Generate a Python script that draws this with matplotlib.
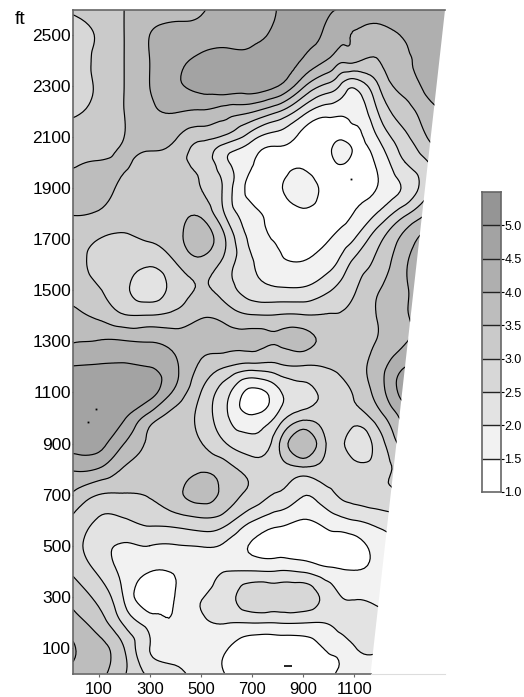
import matplotlib
matplotlib.use("Agg")
import matplotlib.pyplot as plt
import matplotlib.tri as mtri
from matplotlib.patches import Polygon
import numpy as np

# positions along the traverse (ft)
x_ft = [0, 100, 200, 300, 400, 500, 600, 700, 800, 900, 1000, 1050, 1100, 1200, 1300, 1400, 1500]
y_ft = [2600, 2500, 2400, 2300, 2200, 2100, 2050, 2000, 1900, 1800, 1700, 1600, 1500, 1400,
        1300, 1200, 1100, 1000, 900, 800, 700, 600, 500, 400, 300, 200, 100, 0]

# values, one row per y_ft entry
z_rows = [
    [3.1, 3.3, 3.5, 3.7, 3.85, 3.96, 4.11, 4.31, 4.51, 4.75, 4.55, 4.48, 4.4, 4.3, 4.25, 4.2, 4.2],
    [2.8, 3.05, 3.5, 4.0, 4.15, 4.2, 4.3, 4.4, 4.55, 4.7, 4.38, 4.15, 3.98, 3.85, 4.02, 4.1, 4.2],
    [2.8, 3.1, 3.5, 4.0, 4.35, 4.65, 4.75, 4.75, 4.7, 4.45, 3.95, 3.6, 3.62, 3.52, 3.95, 4.15, 4.2],
    [2.7, 3.07, 3.5, 4.0, 4.4, 4.7, 4.8, 4.8, 4.52, 3.6, 2.85, 2.4, 2.1, 3.05, 3.7, 4.2, 4.3],
    [2.93, 3.15, 3.5, 3.9, 4.03, 3.95, 3.75, 3.55, 3.05, 2.2, 1.7, 1.63, 1.67, 2.6, 3.3, 3.85, 4.1],
    [3.15, 3.25, 3.5, 3.73, 3.55, 3.15, 2.87, 2.2, 1.78, 1.35, 1.3, 1.42, 1.38, 2.1, 2.9, 3.6, 4.0],
    [3.25, 3.3, 3.55, 3.52, 3.35, 2.8, 2.17, 1.72, 1.42, 1.3, 1.4, 1.7, 1.45, 1.83, 2.7, 3.35, 3.9],
    [3.4, 3.55, 3.55, 3.4, 3.2, 2.85, 2.08, 1.55, 1.3, 1.4, 1.35, 1.55, 1.35, 1.65, 2.5, 3.05, 3.6],
    [3.75, 3.7, 3.4, 3.3, 3.2, 3.0, 2.3, 1.3, 1.4, 1.7, 1.4, 1.3, 1.3, 1.55, 2.1, 2.95, 3.3],
    [3.52, 3.45, 3.25, 3.3, 3.3, 3.4, 2.4, 1.68, 1.35, 1.4, 1.3, 1.35, 1.52, 2.1, 2.9, 3.6, 4.0],
    [3.3, 3.0, 2.9, 3.05, 3.3, 3.75, 2.95, 1.85, 1.45, 1.3, 1.48, 1.7, 2.0, 2.9, 3.7, 4.25, 4.3],
    [3.35, 2.8, 2.65, 2.55, 2.95, 3.3, 2.75, 2.05, 1.6, 1.55, 1.85, 2.2, 2.65, 3.2, 3.95, 4.3, 4.3],
    [3.3, 3.05, 2.6, 2.25, 2.7, 3.05, 2.75, 2.25, 2.1, 2.1, 2.45, 2.7, 2.95, 3.5, 3.95, 4.2, 4.3],
    [3.65, 3.42, 3.05, 3.03, 3.15, 3.45, 3.3, 3.05, 3.05, 3.05, 3.05, 3.05, 3.2, 3.55, 3.95, 4.2, 4.3],
    [3.97, 4.03, 4.03, 3.98, 3.8, 3.65, 3.65, 3.65, 3.55, 3.65, 3.3, 3.25, 3.3, 3.55, 3.97, 4.2, 4.3],
    [4.52, 4.55, 4.55, 4.5, 4.08, 3.4, 3.0, 2.75, 2.85, 2.95, 3.03, 3.15, 3.3, 3.8, 4.5, 4.6, 4.6],
    [4.8, 4.85, 4.8, 4.7, 3.88, 3.0, 2.15, 1.35, 1.85, 2.35, 2.62, 2.82, 3.05, 3.78, 4.75, 4.9, 4.9],
    [4.8, 4.85, 4.55, 3.75, 3.3, 2.85, 2.08, 1.6, 2.15, 2.87, 2.75, 2.75, 2.75, 3.3, 4.2, 4.5, 4.5],
    [4.7, 4.65, 4.0, 3.4, 3.2, 3.02, 2.5, 2.2, 2.87, 3.9, 2.87, 2.6, 2.2, 2.8, 3.8, 4.2, 4.2],
    [4.05, 3.97, 3.45, 3.25, 3.25, 3.42, 3.2, 2.8, 2.75, 2.87, 2.8, 2.75, 2.75, 2.8, 3.3, 3.6, 3.6],
    [3.43, 3.0, 2.97, 3.03, 3.35, 3.7, 3.3, 2.85, 2.45, 2.03, 2.35, 2.6, 2.72, 2.85, 3.1, 3.2, 3.2],
    [2.9, 2.45, 2.45, 2.65, 2.75, 2.9, 2.7, 2.05, 1.7, 1.48, 1.75, 1.88, 2.0, 2.2, 2.4, 2.5, 2.5],
    [2.7, 2.2, 1.95, 2.0, 1.97, 2.03, 1.9, 1.45, 1.3, 1.25, 1.25, 1.25, 1.3, 1.7, 2.05, 2.1, 2.1],
    [2.92, 2.42, 1.85, 1.52, 1.55, 1.6, 2.0, 2.02, 2.02, 1.95, 1.65, 1.55, 1.52, 1.6, 1.7, 1.7, 1.7],
    [3.33, 2.85, 1.95, 1.1, 1.52, 1.95, 2.37, 2.8, 2.78, 2.8, 2.3, 2.0, 1.95, 1.85, 1.85, 1.85, 1.85],
    [3.7, 3.25, 2.4, 1.8, 1.55, 1.88, 2.03, 2.03, 2.03, 2.03, 2.05, 2.2, 2.2, 2.15, 2.1, 2.1, 2.1],
    [4.05, 3.7, 3.0, 2.0, 1.75, 1.7, 1.53, 1.2, 1.2, 1.25, 1.55, 1.68, 1.97, 2.05, 2.1, 2.1, 2.1],
    [3.85, 3.65, 3.05, 2.4, 2.15, 1.75, 1.48, 1.1, 1.1, 1.2, 1.45, 1.55, 1.65, 1.7, 1.7, 1.7, 1.7],
]

# tiny isolated contour specks in the original
speck_x = [90, 60, 1089]
speck_y = [1036, 985, 1936]
dash_x = [840]
dash_y = [28]

levels = [1.0, 1.5, 2.0, 2.5, 3.0, 3.5, 4.0, 4.5, 5.0, 5.5]
shades = ["#ffffff", "#f2f2f2", "#e3e3e3", "#d7d7d7", "#cacaca",
          "#bdbdbd", "#afafaf", "#a3a3a3", "#959595"]
x_ticks = [100, 300, 500, 700, 900, 1100]
y_ticks = [100, 300, 500, 700, 900, 1100, 1300, 1500, 1700, 1900, 2100, 2300, 2500]
bar_ticks = [1.0, 1.5, 2.0, 2.5, 3.0, 3.5, 4.0, 4.5, 5.0]

plt.rcParams["font.family"] = ["Liberation Sans", "DejaVu Sans"]

W, H = 524, 697
fig = plt.figure(figsize=(W / 100, H / 100), dpi=100)

# main map
ax = fig.add_axes([73 / W, 1 - 673.5 / H, (445 - 73) / W, (673.5 - 10) / H])
X, Y = np.meshgrid(x_ft, y_ft)
Z = np.array(z_rows)
x_max = 1455
ax.set_xlim(0, x_max)
ax.set_ylim(0, 2597)

# smooth contours with matplotlib's triangulation refiner
tri = mtri.Triangulation(X.ravel(), Y.ravel())
refiner = mtri.UniformTriRefiner(tri)
fine_tri, fine_z = refiner.refine_field(Z.ravel(), subdiv=3)

fill = ax.tricontourf(fine_tri, fine_z, levels=levels, colors=shades)
lines = ax.tricontour(fine_tri, fine_z, levels=levels[1:-1], colors="black", linewidths=0.85)

# the surveyed area narrows towards the bottom right
area = Polygon([(0, 0), (1164, 0), (x_max, 2597), (0, 2597)], transform=ax.transData,
               facecolor="none", edgecolor="none")
ax.add_patch(area)
fill.set_clip_path(area)
lines.set_clip_path(area)

ax.plot(speck_x, speck_y, ls="none", marker="s", ms=1.3, color="black", mew=0)
ax.plot(dash_x, dash_y, ls="none", marker="_", ms=6, color="black", mew=1.2)

for side in ["right", "bottom"]:
    ax.spines[side].set_visible(False)
for side in ["left", "top"]:
    ax.spines[side].set_color("#666666")
    ax.spines[side].set_linewidth(1.2)
ax.plot([0, 1164], [0, 0], color="#666666", lw=1.2, clip_on=False)
ax.plot([1164, x_max], [0, 0], color="#dddddd", lw=0.8, clip_on=False)

ax.set_xticks(x_ticks)
ax.set_yticks(y_ticks)
ax.tick_params(axis="x", length=2, width=0.8, labelsize=12, pad=4, color="#666666")
ax.tick_params(axis="y", length=1, width=0.8, labelsize=12.5, pad=0.5, color="#666666")
fig.text(20 / W, 1 - 20 / H, "ft", fontsize=14, ha="center", va="center")

# colour key
cax = fig.add_axes([482 / W, 1 - 492 / H, 19 / W, 300 / H])
cax.bar([0] * len(shades), np.diff(levels), bottom=levels[:-1], width=1, color=shades)
cax.hlines(bar_ticks[1:], -0.5, 0.5, color="#222222", lw=1)
cax.set_xlim(-0.5, 0.5)
cax.set_ylim(1.0, 5.5)
cax.set_xticks([])
cax.yaxis.tick_right()
cax.set_yticks(bar_ticks)
cax.set_yticklabels([f"{t:.1f}" for t in bar_ticks], fontsize=9)
cax.tick_params(axis="y", length=2, width=0.8, pad=0.5)
for spine in cax.spines.values():
    spine.set_color("#666666")
    spine.set_linewidth(1.2)

fig.savefig("out.png", dpi=100)
plt.close(fig)
